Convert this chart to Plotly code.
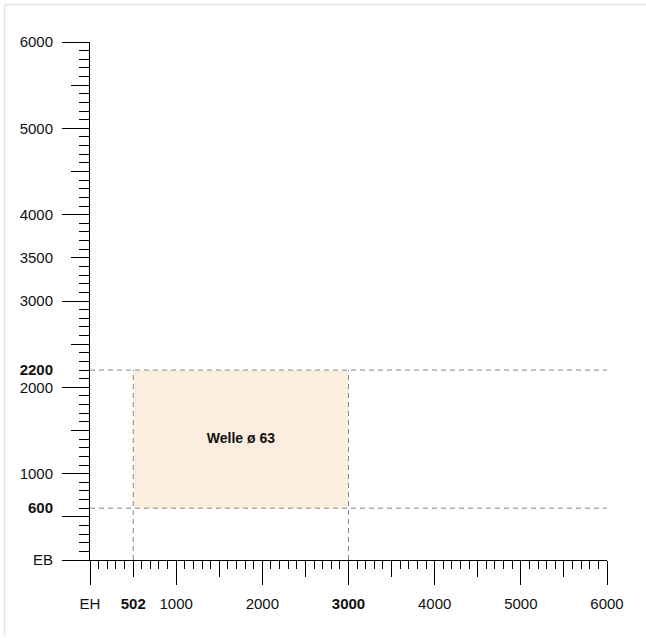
import plotly.graph_objects as go

# ---- data ----
x_major = [0, 1000, 2000, 3000, 4000, 5000, 6000]
x_major_text = ["EH", "1000", "2000", "<b>3000</b>", "4000", "5000", "6000"]
x_medium = [500, 1500, 2500, 3500, 4500, 5500]
x_extra_labels = [502]
x_extra_text = ["<b>502</b>"]

y_major = [0, 500, 1000, 2000, 3000, 4000, 5000, 6000]
y_major_text = ["EB", "", "1000", "2000", "3000", "4000", "5000", "6000"]
y_medium = [1500, 2500, 3500, 4500, 5500]
y_extra_labels = [600, 2200, 3500]
y_extra_text = ["<b>600</b>", "<b>2200</b>", "3500"]

rect_x = [502, 3000]
rect_y = [600, 2200]
rect_label = "Welle ø 63"

axis_range = [0, 6000]
minor_step = 100

W, H = 646, 638
ML, MR, MT, MB = 90, 39, 42, 78
FONT = "Arial, Liberation Sans, Helvetica, sans-serif"
dash_col = "#858585"

fig = go.Figure()

# filled region
fig.add_trace(go.Scatter(
    x=[rect_x[0], rect_x[1], rect_x[1], rect_x[0], rect_x[0]],
    y=[rect_y[0], rect_y[0], rect_y[1], rect_y[1], rect_y[0]],
    fill="toself", fillcolor="#FBEEDF", line=dict(width=0),
    mode="lines", hoverinfo="skip", showlegend=False))

# dashed guide lines
for yv in rect_y:
    fig.add_trace(go.Scatter(x=axis_range, y=[yv, yv], mode="lines",
                             line=dict(color=dash_col, width=1, dash="5px,4px"),
                             hoverinfo="skip", showlegend=False))
for xv in rect_x:
    fig.add_trace(go.Scatter(x=[xv, xv], y=[axis_range[0], rect_y[1]], mode="lines",
                             line=dict(color=dash_col, width=1, dash="5px,4px"),
                             hoverinfo="skip", showlegend=False))

# label
fig.add_trace(go.Scatter(x=[(rect_x[0] + rect_x[1]) / 2], y=[(rect_y[0] + rect_y[1]) / 2],
                         mode="text", text=[f"<b>{rect_label}</b>"],
                         textfont=dict(size=14, color="#111", family=FONT),
                         hoverinfo="skip", showlegend=False))

# dummy traces for overlay axes
for xa, ya in [("x2", "y"), ("x3", "y"), ("x", "y2"), ("x", "y3")]:
    fig.add_trace(go.Scatter(x=[None], y=[None], xaxis=xa, yaxis=ya,
                             showlegend=False, hoverinfo="skip"))

tickfont = dict(size=15, color="#111", family=FONT)
common = dict(range=axis_range, showgrid=False, zeroline=False, fixedrange=True)

fig.update_layout(
    width=W, height=H,
    margin=dict(l=ML, r=MR, t=MT, b=MB),
    paper_bgcolor="white", plot_bgcolor="white",
    showlegend=False,
    xaxis=dict(**common, showline=True, linecolor="black", linewidth=1,
               tickmode="array", tickvals=x_major, ticktext=x_major_text,
               ticks="outside", ticklen=24, tickcolor="black", tickwidth=1,
               tickfont=tickfont, ticklabelstandoff=6,
               minor=dict(dtick=minor_step, tick0=0, ticks="outside", ticklen=8,
                          tickcolor="black", tickwidth=1, showgrid=False)),
    xaxis2=dict(**common, overlaying="x", anchor="y", side="bottom",
                tickmode="array", tickvals=x_extra_labels, ticktext=x_extra_text,
                ticks="outside", ticklen=24, tickcolor="rgba(0,0,0,0)",
                tickfont=tickfont, ticklabelstandoff=6),
    xaxis3=dict(**common, overlaying="x", anchor="y", side="bottom",
                tickmode="array", tickvals=x_medium, showticklabels=False,
                ticks="outside", ticklen=16, tickcolor="black", tickwidth=1),
    yaxis=dict(**common, showline=True, linecolor="black", linewidth=1,
               tickmode="array", tickvals=y_major, ticktext=y_major_text,
               ticks="outside", ticklen=27, tickcolor="black", tickwidth=1,
               tickfont=tickfont, ticklabelstandoff=6,
               minor=dict(dtick=minor_step, tick0=0, ticks="outside", ticklen=10,
                          tickcolor="black", tickwidth=1, showgrid=False)),
    yaxis2=dict(**common, overlaying="y", anchor="x", side="left",
                tickmode="array", tickvals=y_extra_labels, ticktext=y_extra_text,
                ticks="outside", ticklen=27, tickcolor="rgba(0,0,0,0)",
                tickfont=tickfont, ticklabelstandoff=6),
    yaxis3=dict(**common, overlaying="y", anchor="x", side="left",
                tickmode="array", tickvals=y_medium, showticklabels=False,
                ticks="outside", ticklen=18, tickcolor="black", tickwidth=1),
)

# light frame at top and left of the canvas
pw, ph = W - ML - MR, H - MT - MB
fx = (4.5 - ML) / pw
fy = 1 + (MT - 4.5) / ph
fig.add_shape(type="line", xref="paper", yref="paper", x0=fx, x1=(W - ML) / pw,
              y0=fy, y1=fy, line=dict(color="#e4e4e4", width=1.5))
fig.add_shape(type="line", xref="paper", yref="paper", x0=fx, x1=fx,
              y0=fy, y1=-(MB - 2) / ph, line=dict(color="#e4e4e4", width=1.5))

fig.write_html("out.html",
               config={"displayModeBar": False, "staticPlot": True},
               post_script="document.body.style.margin='0';document.body.style.overflow='hidden';")
